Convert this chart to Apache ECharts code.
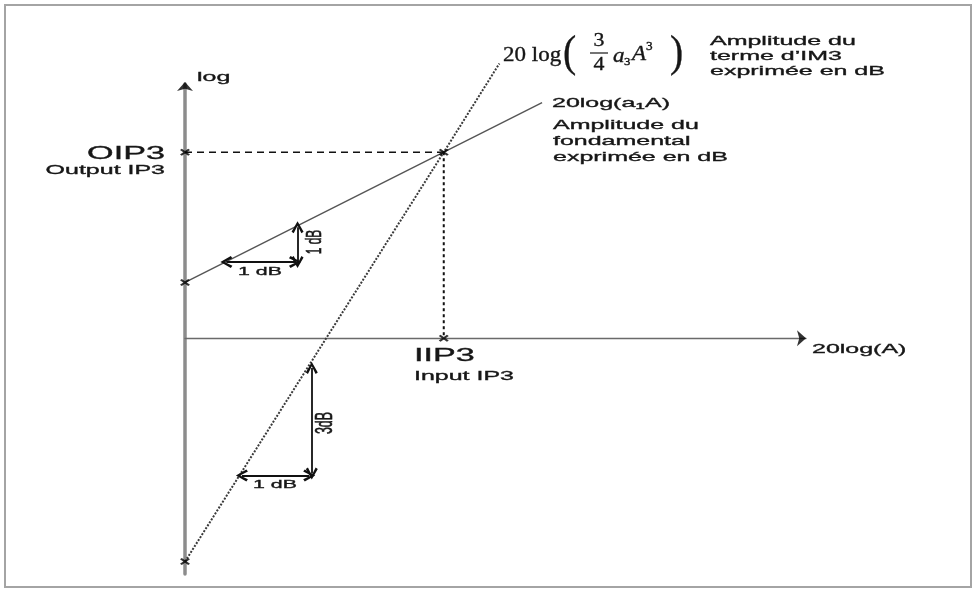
<!DOCTYPE html>
<html>
<head>
<meta charset="utf-8">
<script src="https://cdn.jsdelivr.net/npm/echarts@6/dist/echarts.min.js"></script>
<style>
  html, body { margin: 0; padding: 0; background: #fff; }
  #chart { width: 977px; height: 590px; }
</style>
</head>
<body>
<div id="chart"></div>
<script>
// Axis extents, in dB
const xRange = [0, 48];
const yRange = [-38, 41];

// Fundamental output 20log(a1·A): about 1 dB per dB of input
const fundX = [0, 20, 27.6];
const fundY = [9, 30, 38];

// Third-order intermodulation product: about 3 dB per dB of input
const im3X = [0, 20, 24.3];
const im3Y = [-36, 30, 44.3];

// Third-order intercept point
const IIP3 = 20;
const OIP3 = 30;

// Slope triangles, each segment as [x1, y1, x2, y2]
const fundRun  = [3.2, 12.3, 8.5, 12.3];
const fundRise = [8.7, 12.3, 8.7, 17.9];
const im3Run   = [4.4, -22.1, 9.6, -22.1];
const im3Rise  = [9.8, -4.8, 9.8, -21.8];

const zip = (xs, ys) => xs.map((x, i) => [x, ys[i]]);
const seg = s => ({ coords: [[s[0], s[1]], [s[2], s[3]]] });

const SANS = '"Liberation Sans", Arial, sans-serif';
const SERIF = '"Liberation Serif", "Times New Roman", serif';
const INK = '#161616';
const SX = 1.85;   // the drawing is set in a widened typeface

const CHEVRON = 'path://M5,0 L10,8 L8.2,9.2 L5,3.2 L1.8,9.2 L0,8 Z';
const CROSS = 'path://M0,1.8 L1.8,0 L10,8.2 L8.2,10 Z M8.2,0 L10,1.8 L1.8,10 L0,8.2 Z';

function textStyle(text, font, align) {
  return {
    text: text, font: font, fill: INK, stroke: INK, lineWidth: 0.35,
    textAlign: align, textVerticalAlign: 'middle',
    align: align, verticalAlign: 'middle'
  };
}
function label(text, x, y, size, align) {
  return { type: 'text', x: x, y: y, scaleX: SX, z: 10,
           style: textStyle(text, size + 'px ' + SANS, align || 'left') };
}
function vlabel(text, x, y, size) {
  return { type: 'text', x: x, y: y, rotation: Math.PI / 2, scaleY: SX, z: 10,
           style: textStyle(text, size + 'px ' + SANS, 'center') };
}
function serif(text, x, y, size, align, italic, sx) {
  return { type: 'text', x: x, y: y, scaleX: sx || 1.2, z: 10,
           style: textStyle(text, (italic ? 'italic ' : '') + size + 'px ' + SERIF, align || 'left') };
}

const chart = echarts.init(document.getElementById('chart'), null, { renderer: 'canvas' });

const a1Label = label('', 552, 103, 13.5);
a1Label.style.text = '20log(a{s|1}A)';
a1Label.style.rich = { s: { font: '9.5px ' + SANS, fill: INK, stroke: INK, lineWidth: 0.35, padding: [6, 0, 0, 0] } };

chart.setOption({
  backgroundColor: '#ffffff',
  animation: false,
  grid: { left: 185, top: 84, width: 621, height: 490, containLabel: false },
  xAxis: {
    type: 'value', min: xRange[0], max: xRange[1],
    axisLine: { show: true, onZero: true, lineStyle: { color: '#6a6a6a', width: 1.3 } },
    axisTick: { show: false }, axisLabel: { show: false }, splitLine: { show: false }
  },
  yAxis: {
    type: 'value', min: yRange[0], max: yRange[1],
    axisLine: { show: true, lineStyle: { color: '#8c8c8c', width: 3.5 } },
    axisTick: { show: false }, axisLabel: { show: false }, splitLine: { show: false }
  },
  series: [
    {
      name: 'fondamental', type: 'line', data: zip(fundX, fundY),
      symbol: 'none', clip: false, z: 3,
      lineStyle: { color: '#555555', width: 1.4 }
    },
    {
      name: 'IM3', type: 'line', data: zip(im3X, im3Y),
      symbol: 'none', clip: false, z: 3,
      lineStyle: { color: '#3a3a3a', width: 2, type: [2, 1.5] }
    },
    {
      name: 'OIP3', type: 'line', data: [[0, OIP3], [IIP3, OIP3]],
      symbol: 'none', z: 2,
      lineStyle: { color: '#111111', width: 1.4, type: [7, 5] }
    },
    {
      name: 'IIP3', type: 'line', data: [[IIP3, OIP3], [IIP3, 0]],
      symbol: 'none', z: 2,
      lineStyle: { color: '#111111', width: 2, type: [3, 3] }
    },
    {
      name: 'pentes', type: 'lines', coordinateSystem: 'cartesian2d', z: 4,
      symbol: [CHEVRON, CHEVRON], symbolSize: 12,
      lineStyle: { color: '#111111', width: 1.8, curveness: 0, opacity: 1 },
      data: [seg(fundRun), seg(fundRise), seg(im3Run), seg(im3Rise)]
    },
    {
      name: 'points', type: 'scatter', z: 6, symbol: CROSS, symbolSize: [10, 7],
      itemStyle: { color: '#000000' },
      data: [[0, OIP3], [0, fundY[0]], [0, im3Y[0]], [IIP3, 0], [IIP3, OIP3]]
    },
    {
      name: 'flèche y', type: 'scatter', z: 7, symbol: 'arrow', symbolSize: [12, 9],
      symbolOffset: [0, -2], itemStyle: { color: '#000000' },
      data: [[xRange[0], yRange[1]]]
    },
    {
      name: 'flèche x', type: 'scatter', z: 7, symbol: 'arrow', symbolSize: [12, 9],
      symbolRotate: -90, itemStyle: { color: '#000000' },
      data: [[xRange[1], 0]]
    }
  ],
  graphic: [
    {
      type: 'rect', z: 0, silent: true,
      shape: { x: 5, y: 5, width: 966, height: 582 },
      style: { fill: 'none', stroke: '#a4a4a4', lineWidth: 2 }
    },
    label('log', 197, 77, 13.5),
    label('OIP3', 165, 154, 18.5, 'right'),
    label('Output IP3', 165, 170, 13.5, 'right'),
    label('IIP3', 414, 356, 18.5),
    label('Input IP3', 414, 376, 13.5),
    label('20log(A)', 812, 349, 13.5),

    // fundamental annotation
    a1Label,
    label('Amplitude du', 553, 125, 13.5),
    label('fondamental', 553, 141, 13.5),
    label('exprimée en dB', 553, 157, 13.5),

    // IM3 annotation
    label('Amplitude du', 710, 41, 13.5),
    label('terme d\u2019IM3', 710, 56, 13.5),
    label('exprimée en dB', 710, 71, 13.5),

    // 20 log( 3/4 a3 A^3 )
    serif('20 log', 503, 56, 20, 'left', false, 1.15),
    serif('(', 563, 54, 44, 'left', false, 0.9),
    serif('3', 599, 41, 19, 'center', false, 1.15),
    { type: 'line', z: 10, shape: { x1: 590, y1: 53, x2: 608, y2: 53 }, style: { stroke: INK, lineWidth: 1.2 } },
    serif('4', 599, 65, 19, 'center', false, 1.15),
    serif('a', 613, 57, 20, 'left', true, 1.15),
    serif('3', 624, 62, 11, 'left', false, 1.15),
    serif('A', 632, 55, 20, 'left', true, 1.15),
    serif('3', 646, 47, 11.5, 'left', false, 1.15),
    serif(')', 670, 54, 44, 'left', false, 0.9),

    // slope triangle labels
    label('1 dB', 260, 272, 11.5, 'center'),
    vlabel('1 dB', 315, 242, 12),
    label('1 dB', 275, 485, 11.5, 'center'),
    vlabel('3dB', 326, 423, 12.5)
  ]
});
</script>
</body>
</html>
